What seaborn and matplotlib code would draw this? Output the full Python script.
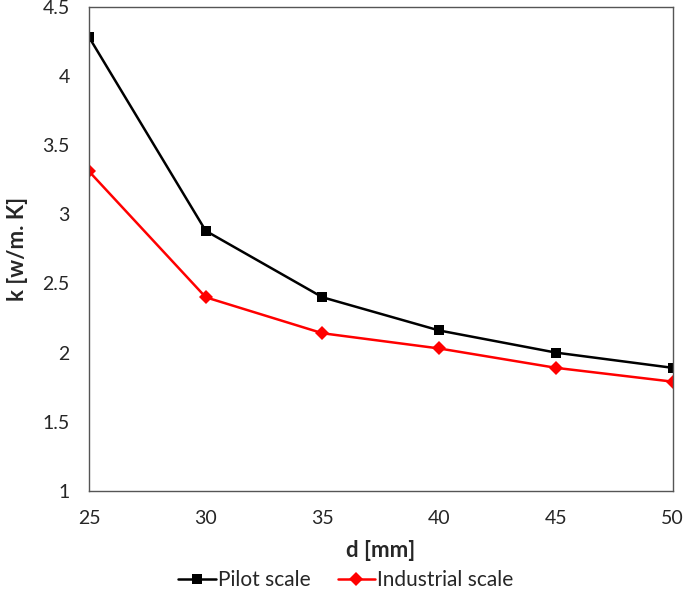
import pandas as pd
import matplotlib
matplotlib.use("Agg")
import matplotlib.pyplot as plt
import seaborn as sns

d_mm = [25, 30, 35, 40, 45, 50]
k_pilot = [4.28, 2.88, 2.40, 2.16, 2.00, 1.89]
k_industrial = [3.31, 2.40, 2.14, 2.03, 1.89, 1.79]
series = ["Pilot scale", "Industrial scale"]

df = pd.concat(
    [
        pd.DataFrame({"d": d_mm, "k": k_pilot, "scale": series[0]}),
        pd.DataFrame({"d": d_mm, "k": k_industrial, "scale": series[1]}),
    ]
)

sns.set_style("white")
plt.rcParams["font.family"] = ["Lato", "DejaVu Sans"]

fig = plt.figure(figsize=(6.85, 6.16), dpi=100)
ax = fig.add_axes([0.130, 0.203, 0.852, 0.786])

sns.lineplot(
    data=df,
    x="d",
    y="k",
    hue="scale",
    style="scale",
    palette={"Pilot scale": "black", "Industrial scale": "#ff0000"},
    markers={"Pilot scale": "s", "Industrial scale": "D"},
    dashes=False,
    markersize=7,
    markeredgewidth=0,
    linewidth=1.8,
    ax=ax,
)

ax.set_xlim(25, 50)
ax.set_ylim(1, 4.5)
ax.set_xticks(d_mm)
ax.set_yticks([1, 1.5, 2, 2.5, 3, 3.5, 4, 4.5])
ax.set_yticklabels(["1", "1.5", "2", "2.5", "3", "3.5", "4", "4.5"])
ax.tick_params(axis="y", length=0, labelsize=14, pad=14)
ax.tick_params(axis="x", length=0, labelsize=14, pad=14)
for s in ax.spines.values():
    s.set_color("#555555")
    s.set_linewidth(1.0)

ax.set_xlabel("d [mm]", fontsize=16, fontweight="bold", labelpad=9)
ax.set_ylabel("k [w/m. K]", fontsize=16, fontweight="bold", labelpad=10)

ax.legend(
    title=None,
    loc="upper center",
    bbox_to_anchor=(0.44, -0.125),
    ncol=2,
    frameon=False,
    fontsize=15,
    handlelength=1.8,
    handletextpad=0.1,
    columnspacing=1.3,
)

fig.savefig("out.png", dpi=100)
